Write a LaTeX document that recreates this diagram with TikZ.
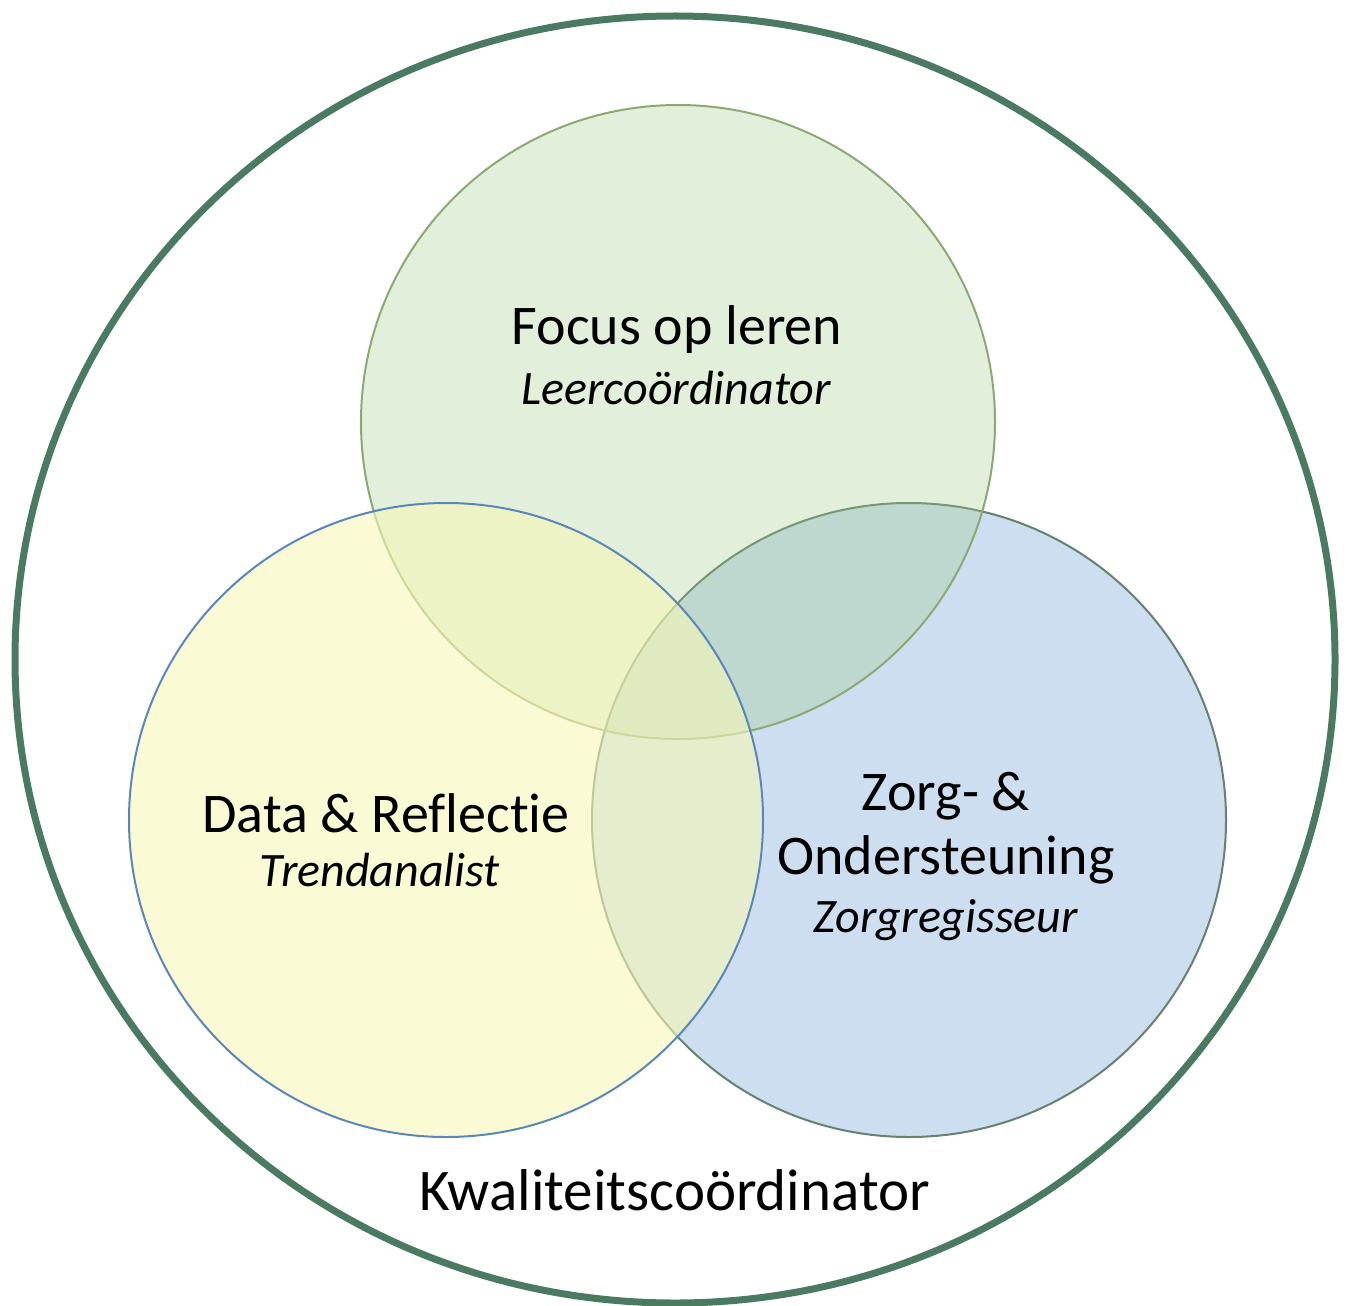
\documentclass[tikz,border=0pt]{standalone}
\usepackage{fontspec}
\setmainfont{Carlito}[Ligatures=CommonOff]

\definecolor{ringgreen}{RGB}{74,122,98}
\definecolor{leergreen}{RGB}{158,202,132}
\definecolor{leerline}{RGB}{140,168,115}
\definecolor{datayellow}{RGB}{247,247,183}
\definecolor{dataline}{RGB}{90,135,185}
\definecolor{zorgblue}{RGB}{205,222,240}
\definecolor{zorgline}{RGB}{100,130,110}

\tikzset{
  rolecircle/.style={line width=1pt},
  rolemain/.style={font=\fontsize{28}{32}\selectfont, align=center},
  rolesub/.style={font=\fontsize{24}{28}\selectfont\itshape}
}

\begin{document}
\begin{tikzpicture}[x=0.5pt, y=-0.5pt]
      \useasboundingbox (0, 0) rectangle (1353, 1305);
      \def\rad{317}

      % buitenste ring
      \draw[ringgreen, line width=3.5pt] (675, 659.5) ellipse [x radius=660, y radius=643.5];

      % de drie rollen: blauw onder, geel boven
      \foreach \cx/\cy/\fc/\lc/\op in {909/820/zorgblue/zorgline/1, 678/422/leergreen/leerline/0.3, 446/820/datayellow/dataline/0.6}
        \draw[rolecircle, draw=\lc, fill=\fc, fill opacity=\op] (\cx, \cy) circle [radius=\rad];

      \node[rolemain] (focus) at (677, 330) {Focus op leren};
      \node[rolesub] (leer) at (676, 388) {Leercoördinator};

      \node[rolemain] (data) at (386, 813) {Data \& Reflectie};
      \node[rolesub] (trend) at (380, 870) {Trendanalist};

      \node[rolemain] (zorg) at (946, 828) {Zorg- \&\\Ondersteuning};
      \node[rolesub] (regie) at (946, 920) {Zorgregisseur};

      \node[rolemain, font=\fontsize{29.5}{34}\selectfont] (kwal) at (675, 1190) {Kwaliteitscoördinator};
    \end{tikzpicture}
\end{document}
